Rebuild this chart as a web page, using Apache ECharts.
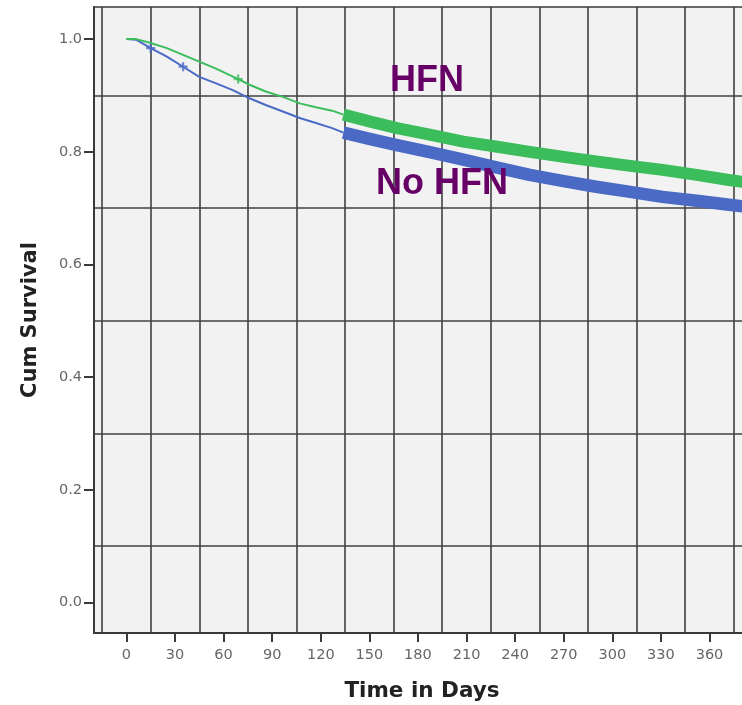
<!DOCTYPE html>
<html>
<head>
<meta charset="utf-8">
<script src="https://cdn.jsdelivr.net/npm/echarts@6/dist/echarts.min.js"></script>
<style>
  html, body { margin: 0; padding: 0; background: #ffffff; }
  #chart { width: 742px; height: 705px; }
</style>
</head>
<body>
<div id="chart"></div>
<script>
// Kaplan-Meier survival estimates (time in days, cumulative survival)
const hfnDays   = [0, 6, 14, 25, 35, 45, 55, 69, 76, 86, 97, 107, 117, 127, 134, 150, 167, 188, 208, 229, 249, 270, 290, 311, 331, 352, 372, 385];
const hfnSurv   = [1.0, 1.0, 0.994, 0.984, 0.972, 0.960, 0.948, 0.929, 0.919, 0.907, 0.897, 0.886, 0.879, 0.873, 0.866, 0.854, 0.842, 0.830, 0.818, 0.809, 0.800, 0.791, 0.783, 0.775, 0.768, 0.759, 0.750, 0.745];
const noHfnDays = [0, 6, 15, 25, 35, 45, 55, 66, 76, 86, 97, 107, 117, 127, 134, 150, 167, 188, 208, 229, 249, 270, 290, 311, 331, 352, 372, 385];
const noHfnSurv = [1.0, 0.999, 0.984, 0.969, 0.951, 0.933, 0.922, 0.909, 0.895, 0.883, 0.871, 0.860, 0.851, 0.842, 0.834, 0.823, 0.812, 0.799, 0.786, 0.772, 0.759, 0.748, 0.738, 0.729, 0.720, 0.713, 0.706, 0.702];

// censored observations shown as "+" marks
const hfnCensorDays = [69];
const hfnCensorSurv = [0.929];
const noHfnCensorDays = [15, 35];
const noHfnCensorSurv = [0.984, 0.951];

// axis ticks and grid positions
const xTickLabels = [0, 30, 60, 90, 120, 150, 180, 210, 240, 270, 300, 330, 360];
const xGridValues = [-15, 15, 45, 75, 105, 135, 165, 195, 225, 255, 285, 315, 345, 375];
const yTickLabels = [0, 0.2, 0.4, 0.6, 0.8, 1.0];
const yGridValues = [0.1, 0.3, 0.5, 0.7, 0.9];

// from this day on, censor marks are so dense the curve reads as a thick band
const denseFrom = 134;

const pairs = (xs, ys) => xs.map((x, i) => [x, ys[i]]);
const thinPart = (xs, ys) => pairs(xs, ys).filter(p => p[0] <= denseFrom);
const thickPart = (xs, ys) => pairs(xs, ys).filter(p => p[0] >= denseFrom);

const GREEN = '#3cbd5c';
const BLUE = '#4a6ac6';
const GRID_LINE = '#404040';
const PLUS = 'path://M3,0H5V3H8V5H5V8H3V5H0V3H3Z';

const chart = echarts.init(document.getElementById('chart'), null, { renderer: 'canvas' });

const X_MIN = -20, X_MAX = 385, Y_MIN = -0.054, Y_MAX = 1.057;

chart.setOption({
  animation: false,
  backgroundColor: '#ffffff',
  grid: {
    left: 94, top: 7, width: 656, height: 626,
    outerBoundsMode: 'none', containLabel: false,
    show: true, backgroundColor: '#f2f2f2', borderWidth: 0
  },
  xAxis: [
    {
      type: 'value', min: X_MIN, max: X_MAX,
      name: 'Time in Days', nameLocation: 'middle', nameGap: 47,
      nameTextStyle: { fontFamily: 'DejaVu Sans', fontWeight: 'bold', fontSize: 21.5, color: '#222' },
      axisLine: { show: true, onZero: false, lineStyle: { color: '#3a3a3a', width: 2 } },
      axisTick: { show: true, length: 9, customValues: xTickLabels, lineStyle: { color: '#3a3a3a', width: 2 } },
      axisLabel: { customValues: xTickLabels, margin: 15, fontFamily: 'DejaVu Sans', fontSize: 14.5, color: '#666' },
      splitLine: { show: false }
    },
    {
      // top frame line plus the vertical grid lines
      type: 'value', min: X_MIN, max: X_MAX, position: 'top',
      axisLine: { show: true, onZero: false, lineStyle: { color: '#3a3a3a', width: 1.5 } },
      axisTick: { show: false, customValues: xGridValues },
      axisLabel: { show: false },
      splitLine: { show: true, lineStyle: { color: GRID_LINE, width: 1.6 } }
    }
  ],
  yAxis: [
    {
      type: 'value', min: Y_MIN, max: Y_MAX,
      name: 'Cum Survival', nameLocation: 'middle', nameGap: 53, nameRotate: 90,
      nameTextStyle: { fontFamily: 'DejaVu Sans', fontWeight: 'bold', fontSize: 21, color: '#222' },
      axisLine: { show: true, onZero: false, lineStyle: { color: '#3a3a3a', width: 2 } },
      axisTick: { show: true, length: 10, customValues: yTickLabels, lineStyle: { color: '#3a3a3a', width: 2 } },
      axisLabel: { customValues: yTickLabels, margin: 12, fontFamily: 'DejaVu Sans', fontSize: 14.5, color: '#666',
                   formatter: v => v.toFixed(1) },
      splitLine: { show: false }
    },
    {
      type: 'value', min: Y_MIN, max: Y_MAX, position: 'left',
      axisLine: { show: false },
      axisTick: { show: false, customValues: yGridValues },
      axisLabel: { show: false },
      splitLine: { show: true, lineStyle: { color: GRID_LINE, width: 1.6 } }
    }
  ],
  series: [
    {
      name: 'No HFN', type: 'line', data: thinPart(noHfnDays, noHfnSurv),
      showSymbol: false, z: 3,
      lineStyle: { color: BLUE, width: 2 }
    },
    {
      name: 'No HFN dense', type: 'line', data: thickPart(noHfnDays, noHfnSurv),
      showSymbol: false, z: 3,
      lineStyle: { color: BLUE, width: 12.5, cap: 'butt', join: 'round' }
    },
    {
      name: 'HFN', type: 'line', data: thinPart(hfnDays, hfnSurv),
      showSymbol: false, z: 4,
      lineStyle: { color: GREEN, width: 2 }
    },
    {
      name: 'HFN dense', type: 'line', data: thickPart(hfnDays, hfnSurv),
      showSymbol: false, z: 4,
      lineStyle: { color: GREEN, width: 12, cap: 'butt', join: 'round' }
    },
    {
      name: 'No HFN censored', type: 'scatter', data: pairs(noHfnCensorDays, noHfnCensorSurv),
      symbol: PLUS, symbolSize: 9, z: 5,
      itemStyle: { color: BLUE }
    },
    {
      name: 'HFN censored', type: 'scatter', data: pairs(hfnCensorDays, hfnCensorSurv),
      symbol: PLUS, symbolSize: 9, z: 5,
      itemStyle: { color: GREEN }
    }
  ],
  graphic: [
    {
      type: 'text', z: 100, x: 427, y: 81,
      style: { text: 'HFN', fill: '#660066', textAlign: 'center', textVerticalAlign: 'middle',
               font: 'bold 36px "Liberation Sans", Arial, sans-serif' }
    },
    {
      type: 'text', z: 100, x: 442, y: 184,
      style: { text: 'No HFN', fill: '#660066', textAlign: 'center', textVerticalAlign: 'middle',
               font: 'bold 36px "Liberation Sans", Arial, sans-serif' }
    }
  ]
});
</script>
</body>
</html>
